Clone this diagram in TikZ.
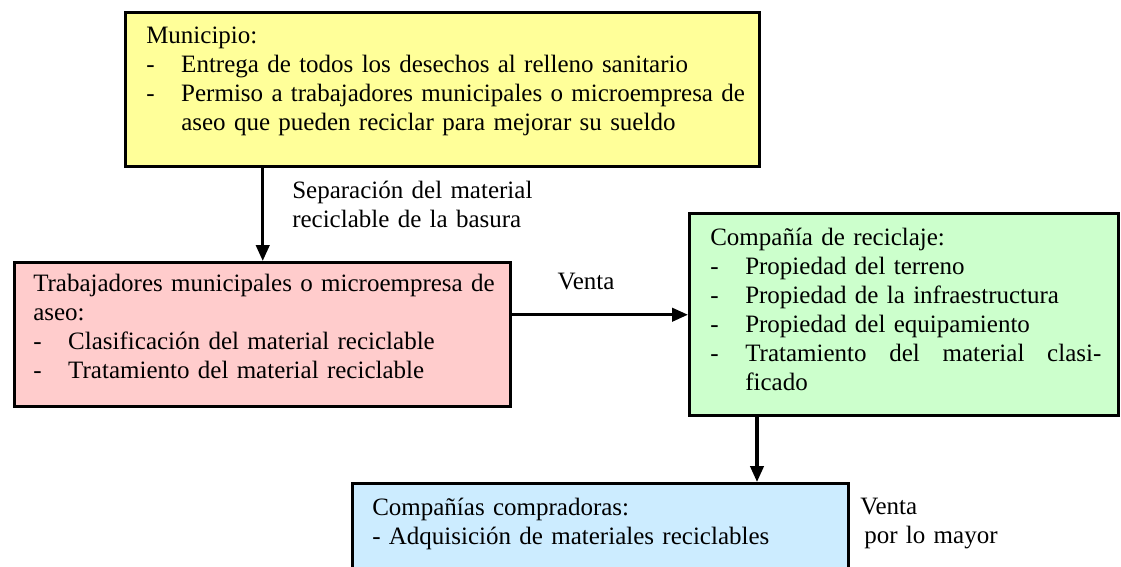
\documentclass[tikz,border=0pt]{standalone}
\usepackage{fontspec}
\setmainfont{Liberation Serif}
\usepackage{tikz}
\usetikzlibrary{arrows.meta}
\usepackage{xcolor}

\newlength\unitpx
\setlength\unitpx{0.75pt}
\newcommand{\flowitem}[1]{\makebox[35\unitpx][l]{-}#1}
\definecolor{munyellow}{HTML}{FFFF99}
\definecolor{trabred}{HTML}{FFCCCC}
\definecolor{recgreen}{HTML}{CCFFCC}
\definecolor{compblue}{HTML}{CCECFF}

\begin{document}
\begin{tikzpicture}[x=0.75pt,y=-0.75pt,
  box/.style={draw=black,line width=2.6pt,anchor=north west,inner sep=0pt},
  txt/.style={anchor=north west,inner sep=0pt,align=left,text width=700\unitpx,
    font=\fontsize{18.75pt}{21.75pt}\selectfont},
  lbl/.style={inner sep=0pt,font=\fontsize{18.75pt}{21.75pt}\selectfont},
  flow/.style={line width=2.4pt,-{Triangle[length=12pt,width=10pt]}}]
  \useasboundingbox (0,0) rectangle (1121,567);
  \clip (0,0) rectangle (1121,567);

  \node[box,fill=munyellow,minimum width=634\unitpx,minimum height=154\unitpx] (mun) at (124,11) {};
  \node[box,fill=trabred,minimum width=496\unitpx,minimum height=144\unitpx] (trab) at (13,261) {};
  \node[box,fill=recgreen,minimum width=429\unitpx,minimum height=202\unitpx] (rec) at (688,212) {};
  \node[box,fill=compblue,minimum width=496\unitpx,minimum height=130\unitpx] (comp) at (351,482) {};

  \node[txt] (muntxt) at (146,27) {Municipio:\\
    \flowitem{Entrega de todos los desechos al relleno sanitario}\\
    \flowitem{Permiso a trabajadores municipales o microempresa de}\\
    \hspace*{35\unitpx}aseo que pueden reciclar para mejorar su sueldo};
  \node[txt] (trabtxt) at (33,274) {Trabajadores municipales o microempresa de\\
    aseo:\\
    \flowitem{Clasificación del material reciclable}\\
    \flowitem{Tratamiento del material reciclable}};
  \node[txt] (rectxt) at (710,228) {Compañía de reciclaje:\\
    \flowitem{Propiedad del terreno}\\
    \flowitem{Propiedad de la infraestructura}\\
    \flowitem{Propiedad del equipamiento}\\
    \flowitem{\makebox[356\unitpx][l]{Tratamiento\hfill del\hfill material\hfill clasi-}}\\
    \hspace*{35\unitpx}ficado};
  \node[txt] (comptxt) at (372,498) {Compañías compradoras:\\
    - Adquisición de materiales reciclables};

  % labels on the flows
  \node[txt] (seplbl) at (292,181) {Separación del material\\
    reciclable de la basura};
  \node[lbl,anchor=base] (ventalbl) at (586,289) {Venta};
  \node[txt] (mayorlbl) at (860,498) {Venta\\
    \hspace*{4\unitpx}por lo mayor};

  \coordinate (drop) at (757,0);
  \draw[flow] (mun.south -| trab.north) -- (trab.north);
  \draw[flow] (trab.east |- rec.west) -- (rec.west);
  \draw[flow] (drop |- rec.south) -- (drop |- comp.north);
\end{tikzpicture}
\end{document}
